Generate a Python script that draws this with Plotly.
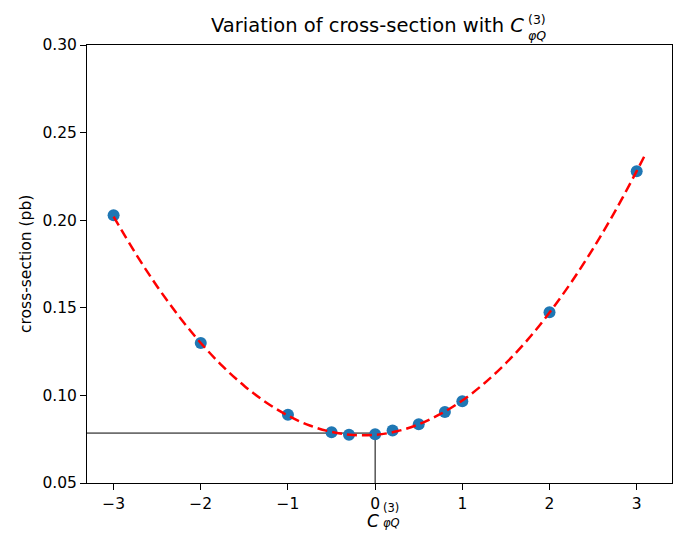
import plotly.graph_objects as go

# Measured points
c_vals = [-3, -2, -1, -0.5, -0.3, 0, 0.2, 0.5, 0.8, 1, 2, 3]
xsec_vals = [0.2028, 0.1299, 0.0890, 0.0790, 0.0775, 0.0778, 0.0800, 0.0835, 0.0905, 0.0966, 0.1474, 0.2280]

# Fitted curve
fit_x = [-3.0, -2.75, -2.5, -2.25, -2.0, -1.75, -1.5, -1.25, -1.0, -0.75, -0.5, -0.25, 0.0,
         0.25, 0.5, 0.75, 1.0, 1.25, 1.5, 1.75, 2.0, 2.25, 2.5, 2.75, 3.0, 3.1]
fit_y = [0.2020, 0.1812, 0.1622, 0.1451, 0.1299, 0.1167, 0.1054, 0.0960, 0.0885, 0.0828,
         0.0792, 0.0774, 0.0775, 0.0795, 0.0835, 0.0894, 0.0971, 0.1068, 0.1184, 0.1318,
         0.1473, 0.1646, 0.1838, 0.2049, 0.2280, 0.2377]

# Reference lines
ref_y = 0.0785
x_range = [-3.305, 3.405]
y_range = [0.05, 0.30]

FONT = "DejaVu Sans"

fig = go.Figure()
fig.add_trace(go.Scatter(x=[x_range[0], 0], y=[ref_y, ref_y], mode="lines",
                         line=dict(color="black", width=1), showlegend=False, hoverinfo="skip"))
fig.add_trace(go.Scatter(x=[0, 0], y=[y_range[0], ref_y], mode="lines",
                         line=dict(color="black", width=1), showlegend=False, hoverinfo="skip"))
fig.add_trace(go.Scatter(x=c_vals, y=xsec_vals, mode="markers",
                         marker=dict(color="#1f77b4", size=12), showlegend=False))
fig.add_trace(go.Scatter(x=fit_x, y=fit_y, mode="lines", line_shape="spline",
                         line=dict(color="#ff0000", width=2.5, dash="10px,5px"), showlegend=False))

axis_common = dict(showline=True, linecolor="black", linewidth=1, mirror=True,
                   ticks="outside", ticklen=6, tickcolor="black", tickwidth=1,
                   showgrid=False, zeroline=False,
                   tickfont=dict(family=FONT, size=15.5, color="black"))
fig.update_xaxes(range=x_range, tickvals=[-3, -2, -1, 0, 1, 2, 3],
                 ticktext=["\u22123", "\u22122", "\u22121", "0", "1", "2", "3"], **axis_common)
fig.update_yaxes(range=y_range, tickvals=[0.05, 0.10, 0.15, 0.20, 0.25, 0.30],
                 tickformat=".2f", **axis_common)

ann = []
# Title
ann.append(dict(text="Variation of cross-section with <i>C</i>", x=0.7487, y=1.0434,
                xanchor="right", yanchor="middle", font=dict(family=FONT, size=19.5, color="black")))
ann.append(dict(text="(3)<br><i>\u03c6Q</i>", x=0.7521, y=1.040, xanchor="left", yanchor="middle",
                align="left", font=dict(family=FONT, size=12.5, color="black")))
# X label
ann.append(dict(text="<i>C</i>", x=0.5009, y=-0.0868, xanchor="right", yanchor="middle",
                font=dict(family=FONT, size=17, color="black")))
ann.append(dict(text="(3)<br><i>\u03c6Q</i>", x=0.5043, y=-0.0742, xanchor="left", yanchor="middle",
                align="left", font=dict(family=FONT, size=11.5, color="black")))
# Y label
ann.append(dict(text="cross-section (pb)", x=-0.1043, y=0.5, textangle=-90,
                xanchor="center", yanchor="middle", font=dict(family=FONT, size=15.5, color="black")))
for a in ann:
    a.update(xref="paper", yref="paper", showarrow=False, borderpad=0)

# The page body adds an 8px offset, so margins are shifted to compensate.
fig.update_layout(width=683, height=541, margin=dict(l=79, r=19, t=37, b=66),
                  plot_bgcolor="white", paper_bgcolor="white", annotations=ann,
                  font=dict(family=FONT, color="black"))

fig.write_html("out.html")
